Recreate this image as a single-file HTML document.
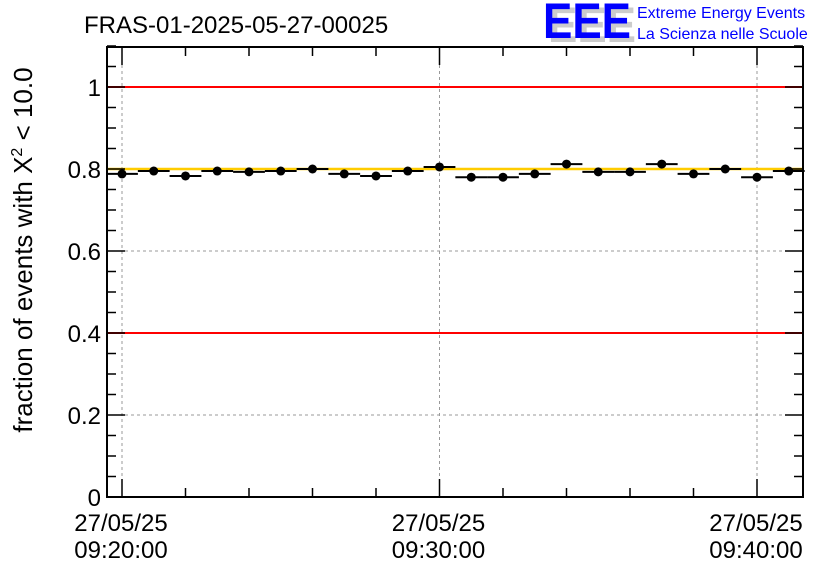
<!DOCTYPE html>
<html><head><meta charset="utf-8"><style>
body{margin:0;background:#fff;}
svg{display:block;font-family:"Liberation Sans",sans-serif;}
</style></head><body>
<svg id="c" width="836" height="572">
<text x="84" y="33" font-size="24">FRAS-01-2025-05-27-00025</text>
<g>
<text x="548" y="42" font-size="50" font-weight="bold" fill="#ccc" textLength="88" lengthAdjust="spacingAndGlyphs">EEE</text>
<text x="543" y="38" font-size="50" font-weight="bold" fill="#0000ff" textLength="88" lengthAdjust="spacingAndGlyphs">EEE</text>
<text x="637" y="18" font-size="16" fill="#0000ff">Extreme Energy Events</text>
<text x="637" y="39" font-size="16" fill="#0000ff">La Scienza nelle Scuole</text>
</g>
<text transform="translate(32,250) rotate(-90)" text-anchor="middle" font-size="26">fraction of events with X<tspan dy="-10" font-size="16">2</tspan><tspan dy="10"> &lt; 10.0</tspan></text>
<g id="plot"></g>
</svg>
<script>
const minutes=[0,1,2,3,4,5,6,7,8,9,10,11,12,13,14,15,16,17,18,19,20,21];
const values=[0.788,0.795,0.783,0.795,0.793,0.795,0.800,0.788,0.783,0.795,0.805,0.780,0.780,0.788,0.812,0.793,0.793,0.812,0.788,0.800,0.780,0.795];
const yTicks=[0,0.2,0.4,0.6,0.8,1];
const xTickMinutes=[0,10,20];
const xTickLabels=[["27/05/25","09:20:00"],["27/05/25","09:30:00"],["27/05/25","09:40:00"]];
const redLines=[0.4,1.0];
const meanLine=0.8;

const L=107,R=803,T=47,B=497;
const X=m=>122+m*31.75;
const Y=v=>497-v*410;
const NS="http://www.w3.org/2000/svg";
const g=document.getElementById('plot');
function mk(t,a){const e=document.createElementNS(NS,t);for(const k in a)e.setAttribute(k,a[k]);g.appendChild(e);return e;}
yTicks.forEach(v=>{if(v>0&&v<1.1){const e=mk('line',{x1:L,x2:R,y1:Y(v),y2:Y(v),stroke:'#999','stroke-dasharray':'3,3','stroke-width':1});

}});
xTickMinutes.forEach(m=>{const e=mk('line',{x1:X(m),x2:X(m),y1:T,y2:B,stroke:'#999','stroke-dasharray':'3,3','stroke-width':1});

});
redLines.forEach(v=>{const e=mk('line',{x1:L,x2:R,y1:Y(v),y2:Y(v),stroke:'#ff0000','stroke-width':2});

});
const ml=mk('line',{x1:L,x2:R,y1:Y(meanLine),y2:Y(meanLine),stroke:'#ffcc00','stroke-width':2.5});


minutes.forEach((m,i)=>{
 const h=mk('line',{x1:X(m)-15.9,x2:X(m)+15.9,y1:Y(values[i]),y2:Y(values[i]),stroke:'#000','stroke-width':2});
 
 
 const c=mk('circle',{cx:X(m),cy:Y(values[i]),r:4.5,fill:'#000'});
 
 
});
const f=mk('rect',{x:L,y:T,width:R-L,height:B-T,fill:'none',stroke:'#000','stroke-width':2});


for(let k=0;k<=22;k++){const v=k*0.05;const maj=k%4==0;const len=maj?18:9;
 mk('line',{x1:L,x2:L+len,y1:Y(v),y2:Y(v),stroke:'#000','stroke-width':1.5});
 mk('line',{x1:R,x2:R-len,y1:Y(v),y2:Y(v),stroke:'#000','stroke-width':1.5});}
yTicks.forEach(v=>{const t=mk('text',{x:101,y:Y(v)+9,'text-anchor':'end','font-size':24});t.textContent=String(v);
 
 });
for(let m=0;m<=21;m+=2){const maj=m%10==0;const len=maj?18:9;
 mk('line',{x1:X(m),x2:X(m),y1:B,y2:B-len,stroke:'#000','stroke-width':1.5});
 mk('line',{x1:X(m),x2:X(m),y1:T,y2:T+len,stroke:'#000','stroke-width':1.5});}
xTickMinutes.forEach((m,i)=>{xTickLabels[i].forEach((s,j)=>{const t=mk('text',{x:X(m)-1,y:531+j*27,'text-anchor':'middle','font-size':24});t.textContent=s;
 
 });});
</script>
</body></html>
